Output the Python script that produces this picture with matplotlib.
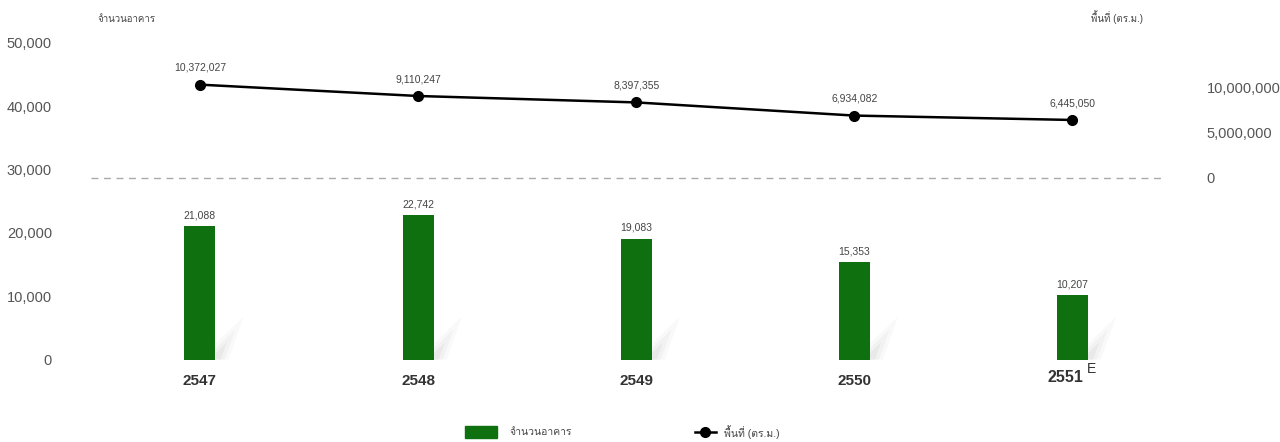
import matplotlib
matplotlib.use("Agg")
import matplotlib.pyplot as plt
from matplotlib import font_manager
from matplotlib.ft2font import FT2Font
from matplotlib.patches import Polygon, Rectangle
from matplotlib.lines import Line2D

years = ["2547", "2548", "2549", "2550", "2551"]
buildings = [21088, 22742, 19083, 15353, 10207]
area = [10372027, 9110247, 8397355, 6934082, 6445050]
left_ticks = [0, 10000, 20000, 30000, 40000, 50000]
right_ticks = [0, 5000000, 10000000]

# find an installed font that has Thai glyphs
thai_font = "DejaVu Sans"
for f in font_manager.fontManager.ttflist:
    try:
        if 0x0E08 in FT2Font(f.fname).get_charmap():
            thai_font = f.name
            break
    except Exception:
        pass
plt.rcParams["font.family"] = ["Liberation Sans", thai_font, "DejaVu Sans"]

green = "#0f700f"
grey = "#555555"

fig = plt.figure(figsize=(12.8, 4.42), dpi=100)
ax = fig.add_axes([0.071, 0.172, 0.852, 0.760])
ax2 = ax.twinx()

x = list(range(len(years)))
bw = 0.142
bars = ax.bar(x, buildings, width=bw, color=green, zorder=3)
# soft diagonal shadow at the foot of each bar
for xi in x:
    xr = xi + bw / 2
    for k, a in enumerate([0.04, 0.05, 0.07]):
        s = 1 - k * 0.3
        ax.add_patch(Polygon([(xr, 0), (xr, 2500 * s), (xr + 0.13 * s, 6800 * s), (xr + 0.06 * s, 0)],
                             closed=True, color="#777777", alpha=a, lw=0, zorder=2))
for xi, v in zip(x, buildings):
    ax.text(xi, v + 900, f"{v:,}", ha="center", va="bottom", fontsize=7.5, color="#444444")

ax.set_xlim(-0.5, 4.5)
ax.set_ylim(-1000, 52000)
ax.set_yticks(left_ticks)
ax.set_yticklabels([f"{t:,}" for t in left_ticks])
ax.set_xticks(x)
ax.set_xticklabels([])
for xi, yr in zip(x, years):
    if yr == "2551":
        # estimated year, label sits a little higher with a superscript E
        ax.text(xi - 0.03, -1600, yr, ha="center", va="top", fontsize=11.5, fontweight="bold", color="#333333")
        ax.text(xi + 0.065, -300, "E", ha="left", va="top", fontsize=10, color="#333333")
    else:
        ax.text(xi, -2300, yr, ha="center", va="top", fontsize=11, fontweight="bold", color="#333333")

ax2.plot(x, area, color="black", lw=1.8, marker="o", markersize=7, zorder=4)
for xi, v in zip(x, area):
    ax2.text(xi, v + 1300000, f"{v:,}", ha="center", va="bottom", fontsize=7.5, color="#444444")
ax2.axhline(0, color="#aaaaaa", lw=1, ls=(0, (5, 4)), xmin=0, xmax=0.985)
ax2.set_ylim(-20.9e6, 16.44e6)
ax2.set_yticks(right_ticks)
ax2.set_yticklabels([f"{t:,}" for t in right_ticks])

for a in (ax, ax2):
    for s in a.spines.values():
        s.set_visible(False)
    a.tick_params(length=0, labelsize=10.5, labelcolor=grey)
ax.tick_params(axis="y", pad=28)
ax2.tick_params(axis="y", pad=18)

fig.text(0.076, 0.945, "จำนวนอาคาร", fontsize=7, color="#444444", va="bottom")
fig.text(0.852, 0.945, "พื้นที่ (ตร.ม.)", fontsize=7, color="#444444", va="bottom")

# legend drawn by hand to match the spacing
fig.patches.append(Rectangle((0.363, 0.010), 0.025, 0.027, color=green, transform=fig.transFigure))
fig.text(0.398, 0.023, "จำนวนอาคาร", fontsize=7.5, color="#444444", va="center")
fig.lines.append(Line2D([0.543, 0.559], [0.023, 0.023], color="black", lw=1.8,
                        transform=fig.transFigure))
fig.lines.append(Line2D([0.551], [0.023], color="black", marker="o", markersize=7,
                        transform=fig.transFigure))
fig.text(0.566, 0.023, "พื้นที่ (ตร.ม.)", fontsize=7.5, color="#444444", va="center")

fig.savefig("out.png", dpi=100)
